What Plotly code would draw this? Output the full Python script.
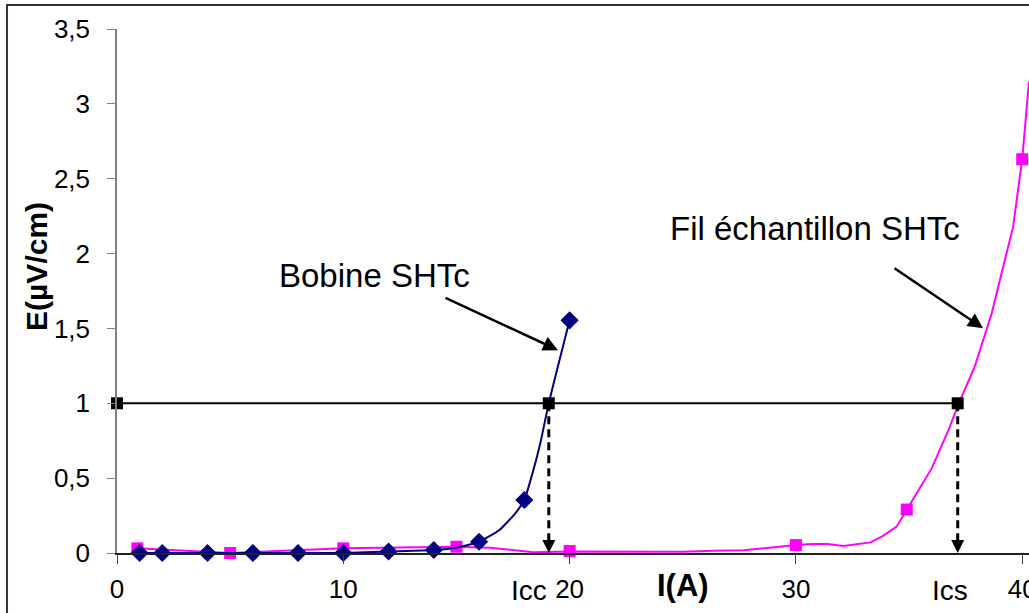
import plotly.graph_objects as go

# ---- data ----
# Bobine SHTc (measured points, diamonds)
bob_x = [1, 2, 4, 6, 8, 10, 12, 14, 16, 18, 20]
bob_y = [0.0, 0.0, 0.0, 0.0, 0.0, 0.0, 0.01, 0.02, 0.075, 0.354, 1.554]
# smoothed curve of the coil
bob_curve_x = [1, 2, 4, 6, 8, 10, 12, 14, 15, 16, 16.9, 17.6, 18, 18.3, 18.7, 19.08, 20]
bob_curve_y = [0.0, 0.0, 0.0, 0.0, 0.0, 0.0, 0.01, 0.02, 0.035, 0.075, 0.154, 0.265, 0.354, 0.5, 0.73, 1.0, 1.554]

# Fil échantillon SHTc (measured points, squares)
fil_x = [0.9, 5, 10, 15, 20, 30, 34.9, 40]
fil_y = [0.031, 0.0, 0.031, 0.042, 0.013, 0.053, 0.29, 2.63]
# curve of the sample wire
fil_curve_x = [0.9, 5, 10, 12, 15, 16.5, 17.66, 18.4, 20, 22, 25, 26.35, 27.7, 30, 30.7, 31.4,
               32.1, 33.3, 33.85, 34.45, 34.9, 36.0, 36.74, 37.2, 37.9, 38.65, 39.6, 40.0, 40.3]
fil_curve_y = [0.031, 0.0, 0.031, 0.035, 0.042, 0.035, 0.018, 0.005, 0.01, 0.008, 0.008, 0.015, 0.018,
               0.053, 0.06, 0.06, 0.047, 0.071, 0.115, 0.176, 0.29, 0.565, 0.82, 1.0, 1.244, 1.6,
               2.18, 2.63, 3.15]

# critical criterion line E = 1 µV/cm
crit_x = [0, 19.08, 37.15]
crit_y = [1, 1, 1]
crit_names = ["", "Icc", "Ics"]
crit_label_x = [None, 18.2, 36.8]

x_ticks = [0, 10, 20, 30, 40]
y_ticks = [0, 0.5, 1, 1.5, 2, 2.5, 3, 3.5]

FONT = "Liberation Sans, Arial, sans-serif"
NAVY = "#000080"
PINK = "#FF00FF"

fig = go.Figure()

fig.add_trace(go.Scatter(x=fil_curve_x, y=fil_curve_y, mode="lines",
                         line=dict(color=PINK, width=2), hoverinfo="skip", showlegend=False))
fig.add_trace(go.Scatter(x=fil_x, y=fil_y, mode="markers", cliponaxis=False,
                         marker=dict(symbol="square", size=12, color=PINK), showlegend=False))
fig.add_trace(go.Scatter(x=bob_curve_x, y=bob_curve_y, mode="lines",
                         line=dict(color=NAVY, width=2, shape="spline", smoothing=0.5),
                         hoverinfo="skip", showlegend=False))
fig.add_trace(go.Scatter(x=bob_x, y=bob_y, mode="markers", cliponaxis=False,
                         marker=dict(symbol="diamond", size=14, color=NAVY), showlegend=False))

# dashed drop lines from criterion to the x axis
for cx, nm, lx in zip(crit_x, crit_names, crit_label_x):
    if not nm:
        continue
    fig.add_trace(go.Scatter(x=[cx, cx], y=[1, 0.06], mode="lines",
                             line=dict(color="black", width=3, dash="8px,5px"),
                             hoverinfo="skip", showlegend=False))
    fig.add_annotation(x=cx, y=0.0, ax=cx, ay=0.12, axref="x", ayref="y",
                       xref="x", yref="y", text="", showarrow=True,
                       arrowhead=2, arrowsize=1.3, arrowwidth=2, arrowcolor="black")
    fig.add_annotation(x=lx, y=0, xref="x", yref="y", yshift=-37,
                       text=nm, showarrow=False,
                       font=dict(family=FONT, size=28, color="black"))

fig.add_trace(go.Scatter(x=crit_x, y=crit_y, mode="lines+markers", cliponaxis=False,
                         line=dict(color="black", width=2),
                         marker=dict(symbol="square", size=12, color="black"),
                         showlegend=False))

# series labels with arrows
fig.add_annotation(x=11.4, y=1.856, xref="x", yref="y", text="Bobine SHTc", showarrow=False,
                   font=dict(family=FONT, size=33, color="black"))
fig.add_annotation(x=19.49, y=1.355, ax=14.45, ay=1.709, axref="x", ayref="y",
                   xref="x", yref="y", text="", showarrow=True,
                   arrowhead=2, arrowsize=1.2, arrowwidth=2.5, arrowcolor="black")
fig.add_annotation(x=30.84, y=2.17, xref="x", yref="y", text="Fil échantillon SHTc", showarrow=False,
                   font=dict(family=FONT, size=33, color="black"))
fig.add_annotation(x=38.27, y=1.502, ax=34.29, ay=1.909, axref="x", ayref="y",
                   xref="x", yref="y", text="", showarrow=True,
                   arrowhead=2, arrowsize=1.2, arrowwidth=2.5, arrowcolor="black")

# axis titles
fig.add_annotation(x=25.0, y=0, xref="x", yref="y", yshift=-32, text="<b>I(A)</b>",
                   showarrow=False, font=dict(family=FONT, size=31, color="black"))
fig.add_annotation(x=-0.0877, y=0.546, xref="paper", yref="paper", text="<b>E(µV/cm)</b>",
                   xanchor="center", yanchor="middle",
                   textangle=-90, showarrow=False, font=dict(family=FONT, size=30, color="black"))

# outer frame (top and left edges visible)
fig.add_shape(type="rect", xref="paper", yref="paper", x0=-0.1206, x1=1.2, y0=-0.3, y1=1.0458,
              line=dict(color="#333333", width=2), fillcolor="rgba(0,0,0,0)", layer="below")

fig.update_layout(
    width=1029, height=613,
    margin=dict(l=117, r=0, t=29, b=60, autoexpand=False),
    paper_bgcolor="white", plot_bgcolor="white",
    separators=", ",
    font=dict(family=FONT, size=26, color="black"),
    showlegend=False,
)
fig.update_xaxes(range=[0, 40.3], tickvals=x_ticks, ticks="outside", ticklen=9, tickcolor="#404040",
                 showline=True, linecolor="#202020", linewidth=1.5, showgrid=False, zeroline=False,
                 tickfont=dict(size=26), ticklabelstandoff=3, ticklabeloverflow="allow",
                 automargin=False)
fig.update_yaxes(range=[0, 3.5], tickvals=y_ticks, ticks="outside", ticklen=8, tickcolor="#808080",
                 showline=True, linecolor="#808080", linewidth=1.5, showgrid=False, zeroline=False,
                 tickfont=dict(size=26), ticklabelstandoff=12, automargin=False)

fig.write_html("out.html", config={"displayModeBar": False},
               post_script="document.body.style.margin='0';")
